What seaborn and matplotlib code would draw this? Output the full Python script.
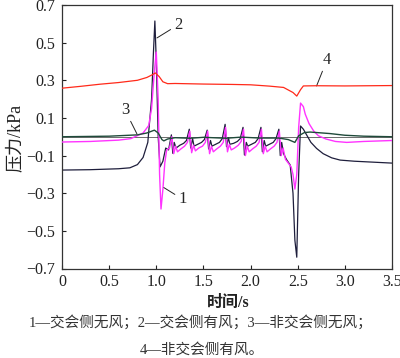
import matplotlib
matplotlib.use("Agg")
import matplotlib.pyplot as plt
import seaborn as sns
import pandas as pd

# ---- data ----
t_red = [0.0, 0.2, 0.4, 0.6, 0.8, 0.9, 0.96, 0.99, 1.03, 1.07, 1.12, 1.2, 1.5,
         1.8, 2.0, 2.2, 2.35, 2.45, 2.49, 2.53, 2.56, 2.7, 3.0, 3.5]
p_red = [0.258, 0.268, 0.279, 0.288, 0.300, 0.315, 0.330, 0.339, 0.320, 0.292,
         0.282, 0.283, 0.280, 0.278, 0.276, 0.269, 0.262, 0.235, 0.216, 0.250,
         0.270, 0.271, 0.270, 0.272]

t_green = [0.0, 0.5, 0.8, 0.9, 0.98, 1.02, 1.06, 1.08, 1.12, 1.2, 1.36, 1.5,
           1.74, 1.9, 2.1, 2.3, 2.4, 2.47, 2.51, 2.57, 2.63, 2.84, 3.0, 3.2, 3.5]
p_green = [0.000, 0.003, 0.010, 0.020, 0.035, 0.020, -0.015, -0.022, -0.012,
           -0.005, -0.008, -0.003, -0.008, -0.002, -0.007, -0.007, -0.015,
           -0.030, 0.005, 0.022, 0.025, 0.017, 0.008, 0.003, 0.000]

t_black = [0.0, 0.3, 0.6, 0.72, 0.8, 0.86, 0.91, 0.95, 0.97, 0.985, 1.0, 1.02,
           1.04, 1.07, 1.1, 1.13, 1.16,
           1.175, 1.19, 1.21, 1.25, 1.29, 1.32, 1.35,
           1.365, 1.385, 1.40, 1.44, 1.48, 1.51, 1.54,
           1.555, 1.575, 1.59, 1.63, 1.67, 1.70, 1.73,
           1.745, 1.765, 1.78, 1.82, 1.86, 1.89, 1.92,
           1.935, 1.955, 1.97, 2.01, 2.05, 2.08, 2.11,
           2.125, 2.145, 2.16, 2.20, 2.24, 2.27, 2.30,
           2.315, 2.33, 2.35, 2.38, 2.42, 2.45, 2.47, 2.49, 2.51, 2.53, 2.56,
           2.6, 2.64, 2.7, 2.77, 2.86, 2.95, 3.1, 3.3, 3.5]
p_black = [-0.177, -0.175, -0.170, -0.165, -0.148, -0.110, -0.030, 0.200, 0.450,
           0.615, 0.400, 0.000, -0.160, -0.130, -0.060, -0.070, 0.010,
           -0.088, -0.030, -0.060, -0.045, -0.035, -0.020, 0.040,
           -0.060, -0.010, -0.050, -0.040, -0.030, -0.015, 0.035,
           -0.065, -0.020, -0.050, -0.040, -0.030, -0.010, 0.066,
           -0.053, -0.005, -0.040, -0.035, -0.025, -0.010, 0.050,
           -0.097, -0.030, -0.050, -0.040, -0.030, -0.010, 0.050,
           -0.080, -0.020, -0.050, -0.040, -0.030, -0.010, 0.040,
           -0.100, -0.030, -0.090, -0.120, -0.150, -0.300, -0.550, -0.640,
           -0.200, 0.057, 0.040,
           0.005, -0.030, -0.062, -0.090, -0.112, -0.124, -0.130, -0.135, -0.140]

t_mag = [0.0, 0.3, 0.6, 0.73, 0.86, 0.92, 0.95, 0.98, 1.0, 1.02, 1.035, 1.05,
         1.07, 1.09, 1.11, 1.14, 1.165,
         1.185, 1.205, 1.225, 1.26, 1.30, 1.33, 1.355,
         1.375, 1.395, 1.415, 1.45, 1.49, 1.52, 1.545,
         1.565, 1.585, 1.605, 1.64, 1.68, 1.71, 1.735,
         1.755, 1.775, 1.795, 1.83, 1.87, 1.90, 1.925,
         1.945, 1.965, 1.985, 2.02, 2.06, 2.09, 2.115,
         2.135, 2.155, 2.175, 2.21, 2.25, 2.28, 2.305,
         2.325, 2.345, 2.37, 2.40, 2.43, 2.45, 2.47, 2.49, 2.51, 2.53, 2.56,
         2.58, 2.62, 2.67, 2.72, 2.8, 2.9, 3.02, 3.2, 3.5]
p_mag = [-0.028, -0.025, -0.018, -0.010, 0.020, 0.060, 0.150, 0.350, 0.450,
         0.200, -0.200, -0.384, -0.280, -0.140, -0.070, -0.060, 0.000,
         -0.090, -0.050, -0.080, -0.065, -0.050, -0.030, 0.030,
         -0.085, -0.045, -0.075, -0.060, -0.050, -0.030, 0.030,
         -0.090, -0.050, -0.080, -0.065, -0.050, -0.030, 0.050,
         -0.080, -0.040, -0.070, -0.060, -0.045, -0.025, 0.040,
         -0.100, -0.050, -0.080, -0.065, -0.050, -0.030, 0.040,
         -0.090, -0.050, -0.080, -0.065, -0.050, -0.030, 0.030,
         -0.100, -0.060, -0.120, -0.140, -0.160, -0.200, -0.278, -0.200,
         0.050, 0.179, 0.160,
         0.120, 0.070, 0.030, 0.005, -0.012, -0.025, -0.030, -0.025, -0.020]

x_ticks = [0, 0.5, 1.0, 1.5, 2.0, 2.5, 3.0, 3.5]
x_ticklabels = ["0", "0.5", "1.0", "1.5", "2.0", "2.5", "3.0", "3.5"]
y_ticks = [0.7, 0.5, 0.3, 0.1, -0.1, -0.3, -0.5, -0.7]
y_ticklabels = ["0.7", "0.5", "0.3", "0.1", "\u22120.1", "\u22120.3", "\u22120.5", "\u22120.7"]

caption1 = "1—交会侧无风；2—交会侧有风；3—非交会侧无风；"
caption2 = "4—非交会侧有风。"

# ---- styling ----
sns.set_style("ticks")
plt.rcParams["font.family"] = ["Liberation Serif", "Noto Sans CJK SC"]
plt.rcParams["axes.unicode_minus"] = True

fig = plt.figure(figsize=(4.0, 3.58), dpi=100)
ax = fig.add_axes([62 / 400, 1 - 268.5 / 358, 330 / 400, 263.5 / 358])

ax.axhline(0, color="#555555", lw=0.6, zorder=1)

df_b = pd.DataFrame({"t": t_black, "p": p_black})
df_m = pd.DataFrame({"t": t_mag, "p": p_mag})
df_g = pd.DataFrame({"t": t_green, "p": p_green})
df_r = pd.DataFrame({"t": t_red, "p": p_red})

sns.lineplot(data=df_b, x="t", y="p", ax=ax, color="#1e1e3c", lw=0.9,
             estimator=None, sort=False, zorder=2)
sns.lineplot(data=df_m, x="t", y="p", ax=ax, color="#ff33ff", lw=1.0,
             estimator=None, sort=False, zorder=3)
sns.lineplot(data=df_g, x="t", y="p", ax=ax, color="#1f4a3a", lw=1.0,
             estimator=None, sort=False, zorder=4)
sns.lineplot(data=df_r, x="t", y="p", ax=ax, color="#ff2a1a", lw=0.9,
             estimator=None, sort=False, zorder=4)

ax.set_xlim(0, 3.5)
ax.set_ylim(-0.7, 0.7)
ax.set_xticks(x_ticks)
ax.set_xticklabels(x_ticklabels)
ax.set_yticks(y_ticks)
ax.set_yticklabels(y_ticklabels)
ax.tick_params(direction="in", length=3, width=0.8, labelsize=11.5, colors="#222222")
ax.tick_params(axis="y", pad=5)
ax.tick_params(axis="x", pad=4)
for s in ax.spines.values():
    s.set_visible(True)
    s.set_color("#333333")
    s.set_linewidth(0.9)

ax.set_xlabel("")
ax.set_ylabel("")
fig.text(15 / 400, 1 - 138 / 358, "压力/kPa", rotation=90, ha="center", va="center",
         fontsize=13, color="#222222")
fig.text(228 / 400, 1 - 303 / 358, "时间/s", ha="center", va="center",
         fontsize=11.5, fontweight="bold", color="#222222")
fig.text(201 / 400, 1 - 322 / 358, caption1, ha="center", va="center",
         fontsize=10.5, color="#333333")
fig.text(202 / 400, 1 - 350 / 358, caption2, ha="center", va="center",
         fontsize=10.5, color="#333333")

lead = dict(arrowstyle="-", color="#222222", lw=0.7, shrinkA=0, shrinkB=0)
ax.annotate("2", xy=(1.007, 0.525), xytext=(1.23, 0.594), fontsize=12,
            ha="center", va="center", arrowprops=lead)
ax.annotate("4", xy=(2.70, 0.27), xytext=(2.81, 0.408), fontsize=12,
            ha="center", va="center", arrowprops=lead)
ax.annotate("3", xy=(0.795, 0.015), xytext=(0.668, 0.142), fontsize=12,
            ha="center", va="center", arrowprops=lead)
ax.annotate("1", xy=(1.08, -0.27), xytext=(1.276, -0.331), fontsize=12,
            ha="center", va="center", arrowprops=lead)

fig.savefig("out.png", dpi=100)
